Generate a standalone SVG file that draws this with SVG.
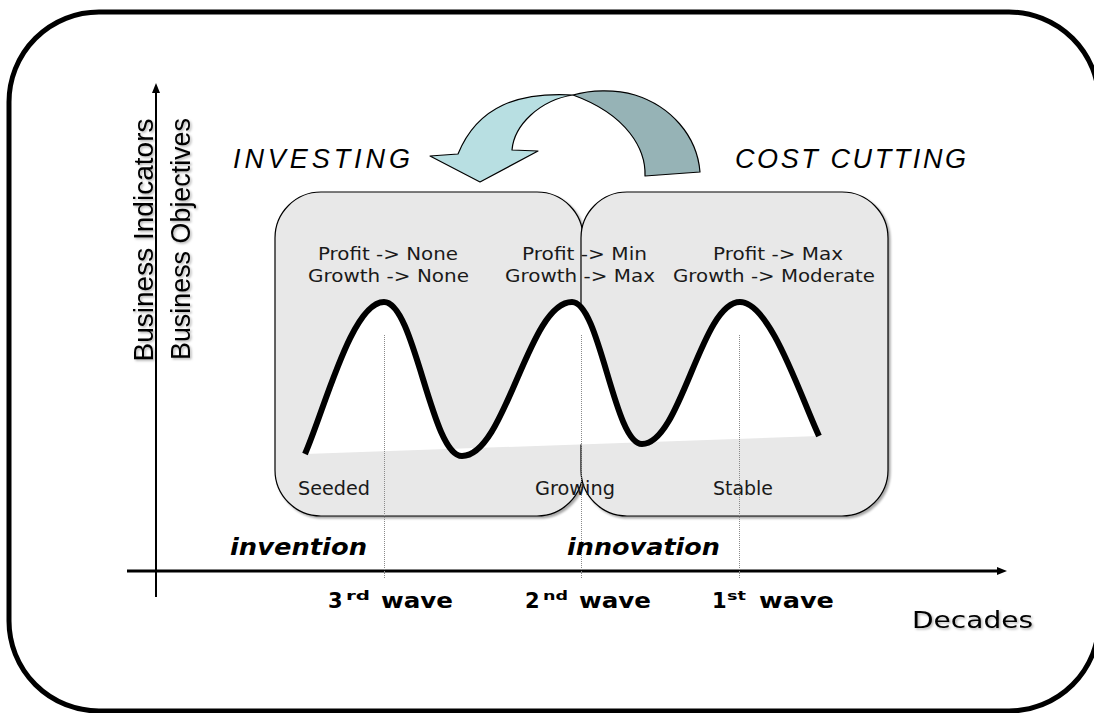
<svg xmlns="http://www.w3.org/2000/svg" width="1094" height="713" viewBox="0 0 1094 713">
  <defs>
    <style>
      .frame { fill: #ffffff; stroke: #000; stroke-width: 5; }
      .axis { stroke: #000; fill: none; }
      .phase { fill: #e8e8e8; stroke: #000; stroke-width: 1.2; }
      .wave { fill: none; stroke: #000; stroke-width: 6; stroke-linecap: butt; stroke-linejoin: round; }
      .guide { stroke: #8a8a8a; stroke-width: 1; stroke-dasharray: 1 1; fill: none; }
      .ylab { font-family: "Liberation Sans", Arial, sans-serif; font-size: 27px; fill: #000; }
      .mode { font-family: "Liberation Sans", Arial, sans-serif; font-style: italic; font-size: 27px; fill: #000; }
      .state { font-family: "DejaVu Sans", Verdana, sans-serif; font-size: 17px; fill: #1a1a1a; }
      .stage { font-family: "DejaVu Sans", Verdana, sans-serif; font-size: 19px; fill: #1a1a1a; }
      .era { font-family: "DejaVu Sans", Verdana, sans-serif; font-weight: bold; font-style: italic; font-size: 23px; fill: #000; }
      .num { font-family: "DejaVu Sans", Verdana, sans-serif; font-weight: bold; font-size: 21px; fill: #000; }
      .sup { font-family: "DejaVu Sans", Verdana, sans-serif; font-weight: bold; font-size: 12px; fill: #000; }
      .xlab { font-family: "DejaVu Sans", Verdana, sans-serif; font-size: 23px; fill: #000; }
    </style>
    <marker id="ah" viewBox="0 0 10 8" refX="2" refY="4" markerWidth="10" markerHeight="8" markerUnits="userSpaceOnUse" orient="auto">
      <path d="M0 0 L10 4 L0 8 Z" fill="#000"/>
    </marker>
    <filter id="soft" x="-5%" y="-5%" width="115%" height="115%">
      <feDropShadow dx="1.5" dy="1.5" stdDeviation="0.8" flood-color="#000" flood-opacity="0.3"/>
    </filter>
    <filter id="boxshadow" x="-5%" y="-5%" width="115%" height="115%">
      <feDropShadow dx="2" dy="2" stdDeviation="1" flood-color="#000" flood-opacity="0.35"/>
    </filter>
  </defs>

  <!-- outer frame -->
  <rect class="frame" x="9" y="12" width="1090" height="699" rx="90" ry="90"/>

  <!-- cycle arrow: cost cutting back to investing -->
  <g id="cycle-arrow" stroke="#000" stroke-width="1.2" stroke-linejoin="round">
    <path d="M 573 95 C 590 90, 615 89, 635 95 C 670 106, 697 135, 700 172 L 645 176 C 646 150, 628 115, 573 95 Z" fill="#96b3b6"/>
    <path d="M 573 95 C 520 92, 478 105, 458 154 L 430 156 L 480 182 L 538 151 L 512 150 C 514 125, 540 100, 573 95 Z" fill="#b8dfe2"/>
  </g>

  <!-- phase boxes -->
  <g id="box-investing" filter="url(#boxshadow)">
    <rect class="phase" x="275" y="192" width="308" height="324" rx="46" ry="46"/>
  </g>
  <g id="box-cost-cutting" filter="url(#boxshadow)">
    <rect class="phase" x="581" y="192" width="307" height="324" rx="46" ry="46"/>
  </g>

  <!-- area under the wave -->
  <path id="wave-area" fill="#ffffff" d="M 305 454 C 325 408, 352 302, 384 302 C 415 302, 431 456, 462 456 C 506 456, 528 302, 572 302 C 600 302, 614 444, 642 444 C 681 444, 701 302, 740 302 C 770 302, 800 395, 819 436 Z"/>

  <!-- axes and guides -->
  <g id="connectors">
    <line class="axis" x1="127" y1="571" x2="999" y2="571" stroke-width="3" marker-end="url(#ah)"/>
    <line class="axis" x1="156" y1="597" x2="156" y2="91" stroke-width="2" marker-end="url(#ah)"/>
    <line class="guide" x1="384.5" y1="335" x2="384.5" y2="579"/>
    <line class="guide" x1="581.5" y1="335" x2="581.5" y2="579"/>
    <line class="guide" x1="739.5" y1="335" x2="739.5" y2="579"/>
    <path class="wave" d="M 305 454 C 325 408, 352 302, 384 302 C 415 302, 431 456, 462 456 C 506 456, 528 302, 572 302 C 600 302, 614 444, 642 444 C 681 444, 701 302, 740 302 C 770 302, 800 395, 819 436"/>
  </g>

  <!-- axis titles -->
  <g id="y-title" filter="url(#soft)">
    <text class="ylab" transform="translate(153,240) rotate(-90)" text-anchor="middle" textLength="243" lengthAdjust="spacingAndGlyphs">Business Indicators</text>
    <text class="ylab" transform="translate(190,239) rotate(-90)" text-anchor="middle" textLength="242" lengthAdjust="spacingAndGlyphs">Business Objectives</text>
  </g>
  <g id="x-title" filter="url(#soft)">
    <text class="xlab" x="912" y="628" textLength="121" lengthAdjust="spacingAndGlyphs">Decades</text>
  </g>

  <!-- strategy labels -->
  <g id="label-investing">
    <text class="mode" x="233" y="168" textLength="177" lengthAdjust="spacing">INVESTING</text>
  </g>
  <g id="label-cost-cutting">
    <text class="mode" x="735" y="168" textLength="231" lengthAdjust="spacing">COST CUTTING</text>
  </g>

  <!-- profit / growth per wave -->
  <g id="state-3rd">
    <text class="state" x="318" y="260" textLength="140" lengthAdjust="spacingAndGlyphs">Profit -&gt; None</text>
    <text class="state" x="308" y="282" textLength="161" lengthAdjust="spacingAndGlyphs">Growth -&gt; None</text>
  </g>
  <g id="state-2nd">
    <text class="state" x="522" y="260" textLength="125" lengthAdjust="spacingAndGlyphs">Profit -&gt; Min</text>
    <text class="state" x="505" y="282" textLength="150" lengthAdjust="spacingAndGlyphs">Growth -&gt; Max</text>
  </g>
  <g id="state-1st">
    <text class="state" x="713" y="260" textLength="130" lengthAdjust="spacingAndGlyphs">Profit -&gt; Max</text>
    <text class="state" x="673" y="282" textLength="202" lengthAdjust="spacingAndGlyphs">Growth -&gt; Moderate</text>
  </g>

  <!-- maturity stages -->
  <g id="stage-seeded"><text class="stage" x="298" y="495" textLength="72" lengthAdjust="spacingAndGlyphs">Seeded</text></g>
  <g id="stage-growing"><text class="stage" x="535" y="495" textLength="80" lengthAdjust="spacingAndGlyphs">Growing</text></g>
  <g id="stage-stable"><text class="stage" x="713" y="495" textLength="60" lengthAdjust="spacingAndGlyphs">Stable</text></g>

  <!-- eras -->
  <g id="era-invention"><text class="era" x="230" y="555" textLength="137" lengthAdjust="spacingAndGlyphs">invention</text></g>
  <g id="era-innovation"><text class="era" x="567" y="555" textLength="153" lengthAdjust="spacingAndGlyphs">innovation</text></g>

  <!-- wave markers -->
  <g id="wave-3rd">
    <text class="num" x="328" y="608">3</text>
    <text class="sup" x="346" y="600" textLength="24" lengthAdjust="spacingAndGlyphs">rd</text>
    <text class="num" x="381" y="608" textLength="72" lengthAdjust="spacingAndGlyphs">wave</text>
  </g>
  <g id="wave-2nd">
    <text class="num" x="525" y="608">2</text>
    <text class="sup" x="543" y="600" textLength="25" lengthAdjust="spacingAndGlyphs">nd</text>
    <text class="num" x="579" y="608" textLength="72" lengthAdjust="spacingAndGlyphs">wave</text>
  </g>
  <g id="wave-1st">
    <text class="num" x="712" y="608">1</text>
    <text class="sup" x="727" y="600" textLength="19" lengthAdjust="spacingAndGlyphs">st</text>
    <text class="num" x="759" y="608" textLength="75" lengthAdjust="spacingAndGlyphs">wave</text>
  </g>
</svg>
